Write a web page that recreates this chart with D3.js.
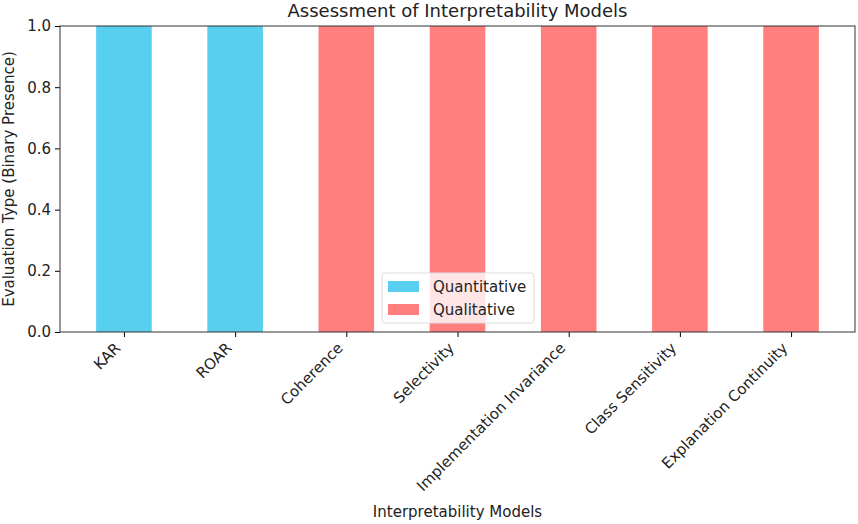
<!DOCTYPE html>
<html>
<head>
<meta charset="utf-8">
<script src="https://cdn.jsdelivr.net/npm/d3@7"></script>
<style>
  body { margin: 0; background: #fff; }
  text { font-family: "DejaVu Sans", sans-serif; fill: #222; }
</style>
</head>
<body>
<script>
// data
const modelos = ["KAR", "ROAR", "Coherence", "Selectivity", "Implementation Invariance", "Class Sensitivity", "Explanation Continuity"]
const cuantitativo = [1, 1, 0, 0, 0, 0, 0]
const cualitativo = [0, 0, 1, 1, 1, 1, 1]
const series = ["Quantitative", "Qualitative"]
const colores = ["#58cfee", "#ff7f7f"]
const yTicks = [0.0, 0.2, 0.4, 0.6, 0.8, 1.0]

var margin = { top: 26, right: 3, bottom: 192, left: 60 }
var width = 858 - margin.left - margin.right
var height = 524 - margin.top - margin.bottom

var svg = d3.select("body").append("svg")
    .attr("width", 858)
    .attr("height", 524)

var g = svg.append("g")
    .attr("transform", "translate(" + margin.left + "," + margin.top + ")")

// limites como matplotlib: ancho 0.5 y margen del 5%
var x = d3.scaleLinear()
    .domain([-0.575, modelos.length - 1 + 0.575])
    .range([0, width])
var anchoBarra = x(0.5) - x(0)

var y = d3.scaleLinear()
    .domain([0, 1])
    .range([height, 0])

// apilado
var datos = modelos.map((m, i) => ({ modelo: m, i: i, q: cuantitativo[i], l: cualitativo[i] }))
var pila = d3.stack().keys(["q", "l"])(datos)

g.selectAll("g.serie")
    .data(pila)
    .enter().append("g")
        .attr("class", "serie")
        .attr("fill", (d, k) => colores[k])
    .selectAll("rect")
    .data(d => d)
    .enter().append("rect")
        .attr("x", d => x(d.data.i) - anchoBarra / 2)
        .attr("width", anchoBarra)
        .attr("y", d => y(d[1]))
        .attr("height", d => y(d[0]) - y(d[1]))

// EJE Y
var ejeY = g.append("g")
    .call(d3.axisLeft(y).tickValues(yTicks).tickFormat(d3.format(".1f")).tickSize(5).tickPadding(4))
ejeY.selectAll("text").style("font-size", "15px").attr("fill", "#222")
ejeY.select(".domain").remove()

// EJE X
var ejeX = g.append("g")
    .attr("transform", "translate(0," + height + ")")
    .call(d3.axisBottom(x).tickValues(d3.range(modelos.length)).tickFormat(i => modelos[i]).tickSize(5))
ejeX.select(".domain").remove()
ejeX.selectAll("text")
    .style("font-size", "15px")
    .attr("fill", "#222")
    .attr("text-anchor", "end")
    .attr("y", 0)
    .attr("dy", "0")
    .attr("transform", "translate(-3,17) rotate(-45)")

// marco
g.append("rect")
    .attr("width", width)
    .attr("height", height)
    .attr("fill", "none")
    .attr("stroke", "#333")
    .attr("stroke-width", 1)

// titulos
svg.append("text")
    .attr("x", margin.left + width / 2)
    .attr("y", 17)
    .attr("text-anchor", "middle")
    .style("font-size", "18px")
    .text("Assessment of Interpretability Models")

svg.append("text")
    .attr("x", margin.left + width / 2)
    .attr("y", 517)
    .attr("text-anchor", "middle")
    .style("font-size", "15px")
    .text("Interpretability Models")

svg.append("text")
    .attr("transform", "translate(14," + (margin.top + height / 2) + ") rotate(-90)")
    .attr("text-anchor", "middle")
    .style("font-size", "15px")
    .text("Evaluation Type (Binary Presence)")

// leyenda
var ley = svg.append("g").attr("transform", "translate(382,273)")
ley.append("rect")
    .attr("width", 152)
    .attr("height", 50)
    .attr("rx", 3)
    .attr("fill", "#fff")
    .attr("fill-opacity", 0.8)
    .attr("stroke", "#ddd")
series.forEach((s, k) => {
    ley.append("rect")
        .attr("x", 6)
        .attr("y", 8 + k * 23)
        .attr("width", 31)
        .attr("height", 11)
        .attr("fill", colores[k])
    ley.append("text")
        .attr("x", 51)
        .attr("y", 19 + k * 23)
        .style("font-size", "15px")
        .text(s)
})
</script>
</body>
</html>
